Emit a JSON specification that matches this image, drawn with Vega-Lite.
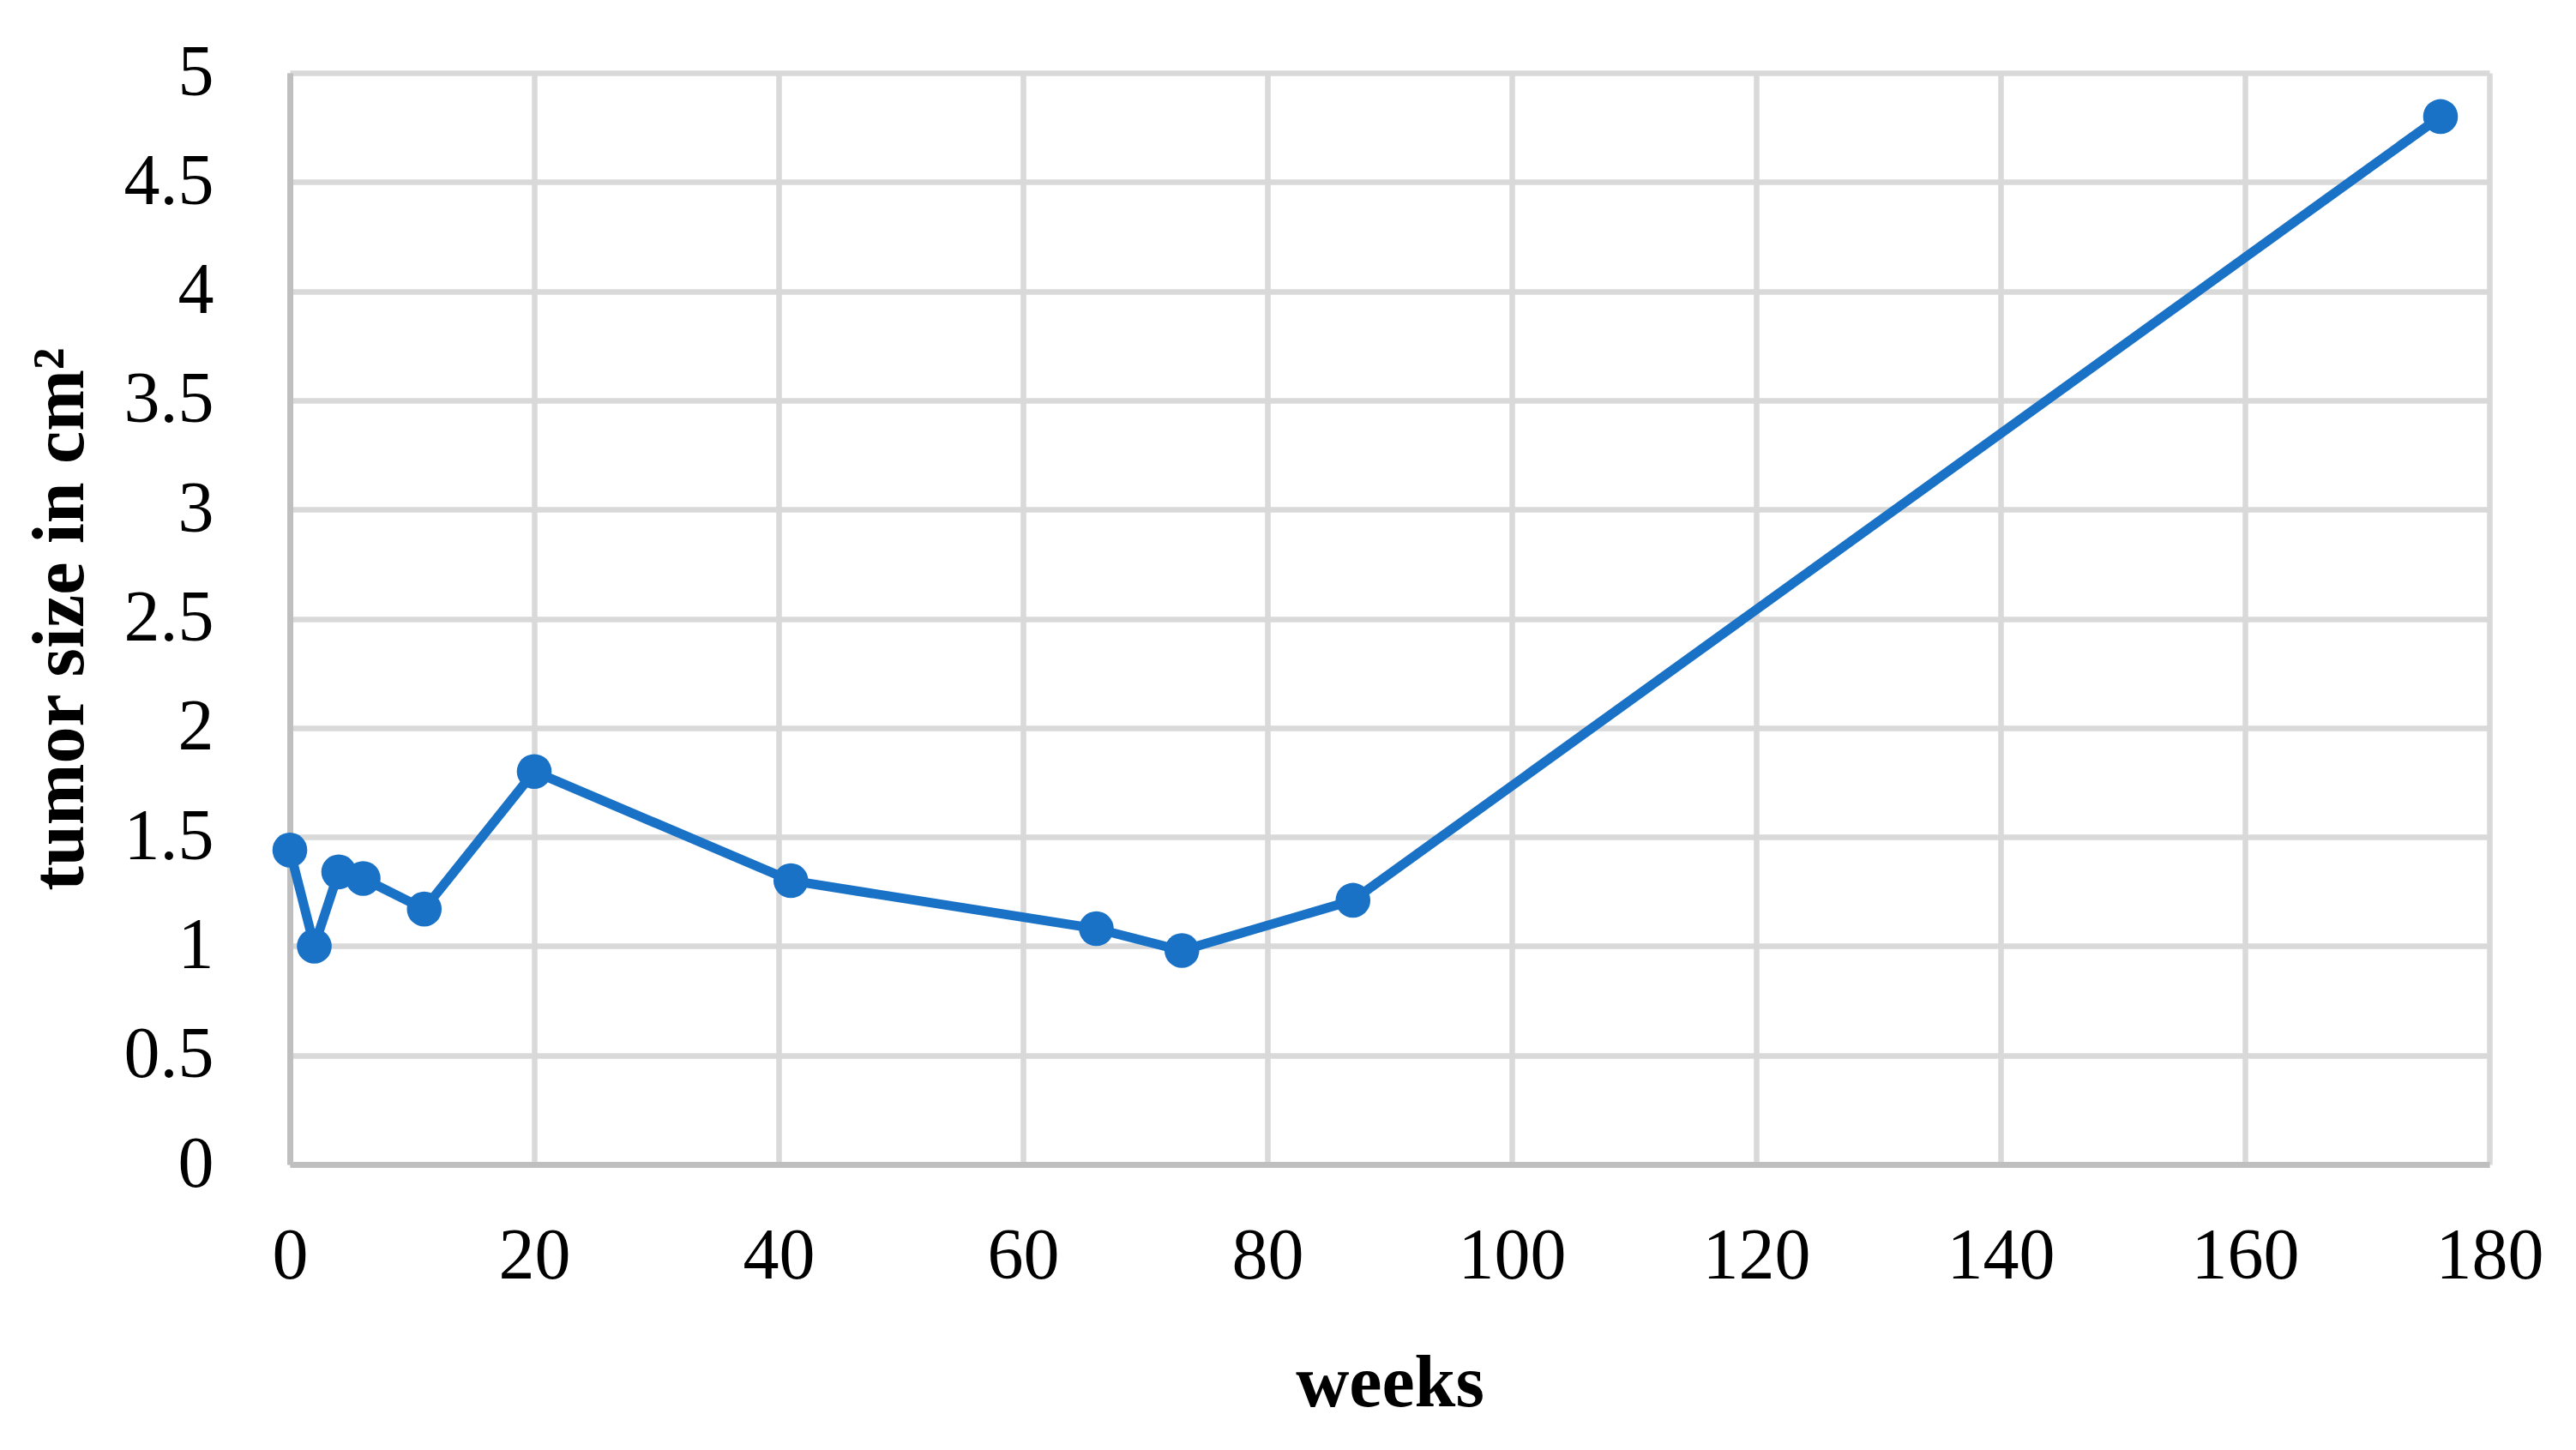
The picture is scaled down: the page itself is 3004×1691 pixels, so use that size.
{
  "$schema": "https://vega.github.io/schema/vega-lite/v6.json",
  "width": 2565,
  "height": 1273,
  "autosize": "none",
  "padding": {"left": 338, "top": 85, "right": 101, "bottom": 333},
  "background": "white",
  "data": {
    "values": [
      {"weeks": 0, "size": 1.44},
      {"weeks": 2, "size": 1.0},
      {"weeks": 4, "size": 1.34},
      {"weeks": 6, "size": 1.31},
      {"weeks": 11, "size": 1.17},
      {"weeks": 20, "size": 1.8},
      {"weeks": 41, "size": 1.3},
      {"weeks": 66, "size": 1.08},
      {"weeks": 73, "size": 0.98},
      {"weeks": 87, "size": 1.21},
      {"weeks": 176, "size": 4.8}
    ]
  },
  "mark": {
    "type": "line",
    "color": "#1a72c7",
    "strokeWidth": 11,
    "point": {"filled": true, "size": 1650, "color": "#1a72c7", "opacity": 1}
  },
  "encoding": {
    "x": {
      "field": "weeks",
      "type": "quantitative",
      "scale": {"domain": [0, 180], "nice": false, "zero": false},
      "axis": {
        "title": "weeks",
        "values": [0, 20, 40, 60, 80, 100, 120, 140, 160, 180],
        "grid": true,
        "ticks": false,
        "labelPadding": 66,
        "titlePadding": 64
      }
    },
    "y": {
      "field": "size",
      "type": "quantitative",
      "scale": {"domain": [0, 5], "nice": false},
      "axis": {
        "title": "tumor size in cm²",
        "values": [0, 0.5, 1, 1.5, 2, 2.5, 3, 3.5, 4, 4.5, 5],
        "format": "~g",
        "grid": true,
        "ticks": false,
        "labelPadding": 89,
        "titlePadding": 30
      }
    }
  },
  "config": {
    "view": {"stroke": null},
    "axis": {
      "labelFont": "Liberation Serif",
      "labelFontSize": 84,
      "labelColor": "#000000",
      "titleFont": "Liberation Serif",
      "titleFontSize": 86,
      "titleFontWeight": "bold",
      "titleColor": "#000000",
      "gridColor": "#d9d9d9",
      "gridWidth": 6.5,
      "gridOpacity": 1,
      "domainColor": "#bfbfbf",
      "domainWidth": 7,
      "labelFlush": false,
      "labelOverlap": false
    }
  }
}
